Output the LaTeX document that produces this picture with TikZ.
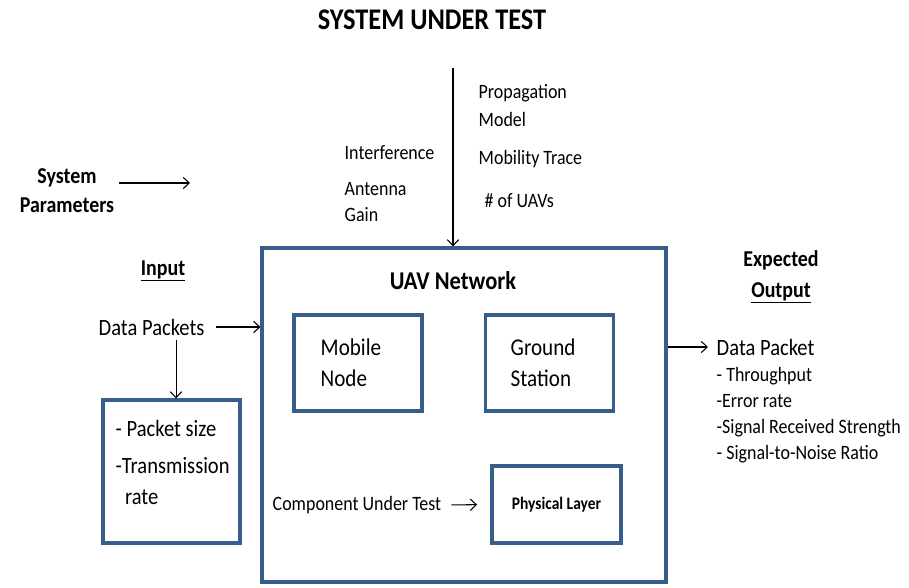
\documentclass[tikz,border=0pt]{standalone}
\usepackage{fontspec}
\setmainfont[FakeStretch=0.88]{Carlito}
\usetikzlibrary{positioning,arrows.meta}
\definecolor{boxblue}{RGB}{56,93,138}
\tikzset{
  blockbox/.style={draw=boxblue, line width=2.4pt, inner sep=0pt},
  lbl/.style={font=\fontsize{17.5}{23}\selectfont, align=left},
  small/.style={font=\fontsize{15.3}{19.5}\selectfont, align=left},
  head/.style={font=\fontsize{17}{21.75}\selectfont\bfseries, align=center},
  arr/.style={->, line width=0.8pt},
}
\begin{document}
\begin{tikzpicture}[x=0.75pt, y=-0.75pt, >={Straight Barb[length=4.5pt,width=8.5pt]}]
    \useasboundingbox (0,0) rectangle (909,588);

    % Title
    \node[font=\fontsize{22.5}{26}\selectfont\bfseries] (title) at (432,20) {SYSTEM UNDER TEST};

    % Boxes
    \node[blockbox, minimum width=303pt, minimum height=250.5pt] (net) at (464,415) {};
    \node[blockbox, minimum width=96pt, minimum height=72pt] (mob) at (358,363) {};
    \node[blockbox, minimum width=96pt, minimum height=72pt] (gnd) at (549.5,363) {};
    \node[blockbox, minimum width=96.75pt, minimum height=57.75pt,
          font=\fontsize{13.2}{16}\selectfont\bfseries] (phys) at (556.5,504.5) {Physical Layer};
    \node[blockbox, minimum width=102.75pt, minimum height=107.25pt] (pk) at (171.5,471.5) {};

    % Texts in the boxes
    \node[font=\fontsize{19.2}{22}\selectfont\bfseries] (nettxt) at (453,281) {UAV Network};
    \node[lbl, anchor=west, font=\fontsize{18}{23}\selectfont] (mobtxt) at (316,362.5) {Mobile\\Node};
    \node[lbl, anchor=west, font=\fontsize{18}{23}\selectfont] (gndtxt) at (506,362.5) {Ground\\Station};
    \node[lbl, anchor=west] (pktxt) at (111,462) {- Packet size\\[5pt]-Transmission\\\hspace{7pt}rate};
    \node[small, anchor=west] (cut) at (268,505) {Component Under Test};

    % Input side
    \node[head] (sys) at (67,191) {System\\Parameters};
    \coordinate (sp) at (190,183);
    \node[head] (inp) at (163,271) {\underline{Input}};
    \node[lbl, anchor=west] (dp) at (94,327) {Data Packets};

    % System parameters above the network
    \node[small, anchor=west] (intf) at (340,153) {Interference};
    \node[small, anchor=west] (ant) at (340,202) {Antenna\\Gain};
    \node[small, anchor=west, font=\fontsize{15.3}{21}\selectfont] (prop) at (474,106) {Propagation\\Model};
    \node[small, anchor=west] (mtr) at (474,159) {Mobility Trace};
    \node[small, anchor=west] (nuav) at (480,201) {\# of UAVs};
    \coordinate (top) at (453,68);

    % Output side
    \node[head, font=\fontsize{17}{23}\selectfont\bfseries] (exp) at (781,277) {Expected\\\underline{Output}};
    \node[lbl, anchor=west] (dout) at (712,347) {Data Packet};
    \node[small, anchor=west] (dlist) at (712,415)
        {- Throughput\\-Error rate\\-Signal Received Strength\\- Signal-to-Noise Ratio};

    % Arrows
    \draw[arr] (sys.east |- sp) -- (sp);
    \draw[arr] (top) -- (top |- net.north);
    \draw[arr, shorten <=5pt] (dp.east) -- (dp.east -| net.west);
    \draw[arr] ([xshift=3.4pt]dp.south -| pk.north) -- ([xshift=3.4pt]pk.north);
    \draw[arr, shorten <=4pt, shorten >=10pt] (cut.east) -- (phys.west);
    \draw[arr, shorten >=3pt] (dout.west -| net.east) -- (dout.west);
\end{tikzpicture}
\end{document}
